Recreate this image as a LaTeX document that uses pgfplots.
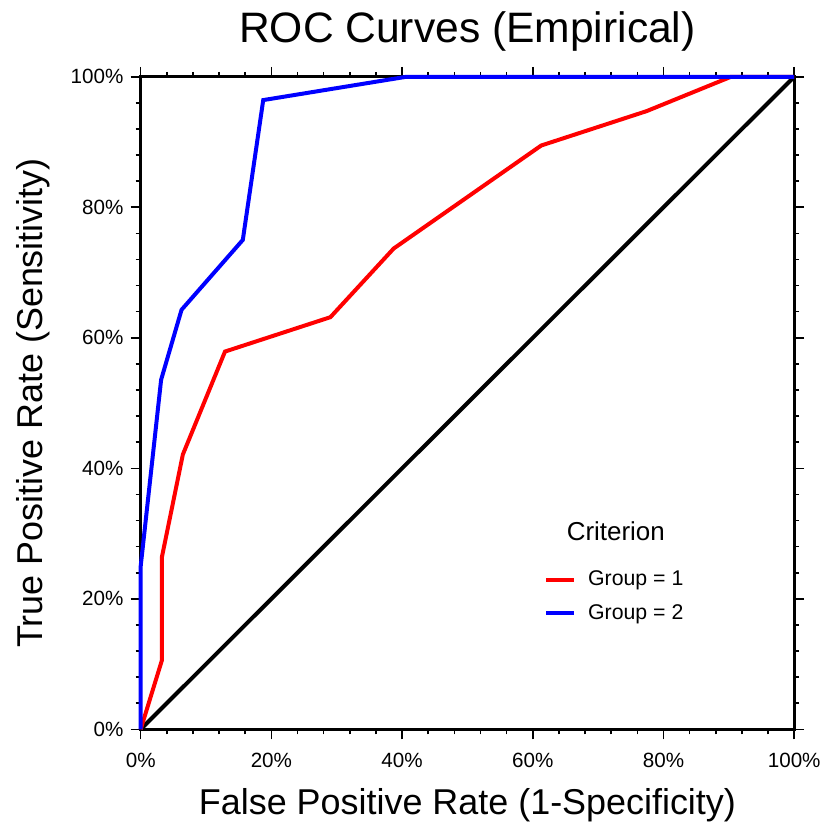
\documentclass[border=0pt]{standalone}
\usepackage{pgfplots}
\pgfplotsset{compat=1.18}
\usepackage{fontspec}
\setmainfont{Liberation Sans}
\begin{document}
\begin{tikzpicture}
\begin{axis}[
  scale only axis, width=491.25pt, height=490.5pt,
  xmin=0, xmax=100, ymin=0, ymax=100,
  xtick={0,20,40,60,80,100}, ytick={0,20,40,60,80,100},
  xticklabels={0\%,20\%,40\%,60\%,80\%,100\%},
  yticklabels={0\%,20\%,40\%,60\%,80\%,100\%},
  minor tick num=4,
  tick align=outside,
  major tick length=7.5pt, minor tick length=3.75pt,
  every tick/.style={black, line width=1.2pt},
  axis line style={line width=2pt},
  tick label style={font=\fontsize{15.5}{18}\selectfont},
  xticklabel style={yshift=-7pt},
  yticklabel style={xshift=-2pt},
  title={ROC Curves (Empirical)},
  title style={font=\fontsize{32}{38}\selectfont, at={(rel axis cs:0.5,1)}, anchor=base, yshift=20pt},
  xlabel={False Positive Rate (1-Specificity)},
  xlabel style={font=\fontsize{27}{32}\selectfont, at={(rel axis cs:0.5,0)}, anchor=base, yshift=-63.75pt},
  ylabel={True Positive Rate (Sensitivity)},
  ylabel style={font=\fontsize{27}{32}\selectfont, at={(rel axis cs:0,0.5)}, anchor=base, yshift=74pt},
  clip=false,
  legend style={draw=none, fill=none, at={(axis cs:61.1,25.1)}, anchor=north west,
    font=\fontsize{16}{19}\selectfont, row sep=8.5pt,
    /tikz/every odd column/.append style={column sep=7pt}},
  legend cell align=left,
  legend image code/.code={\draw[#1] (0pt,0pt) -- (21pt,0pt);},
]
\addplot[black, line width=3pt, forget plot] coordinates {(0,0) (100,100)};
\addplot[red, line width=3pt] coordinates {
  (0,0) (3.23,10.53) (3.23,26.32) (6.45,42.11) (12.90,57.89) (29.03,63.16)
  (38.71,73.68) (61.29,89.47) (77.42,94.74) (90.32,100) (100,100)};
\addlegendentry{Group = 1}
\addplot[blue, line width=3pt] coordinates {
  (0,0) (0,25) (3.125,53.57) (6.25,64.29) (15.625,75) (18.75,96.43) (40.625,100) (100,100)};
\addlegendentry{Group = 2}
\node[font=\fontsize{19.5}{23}\selectfont] at (axis cs:72.7,30.3) {Criterion};
\path (rel axis cs:-0.2153,-0.1407) rectangle (rel axis cs:1.0458,1.1177);
\end{axis}
\end{tikzpicture}
\end{document}
